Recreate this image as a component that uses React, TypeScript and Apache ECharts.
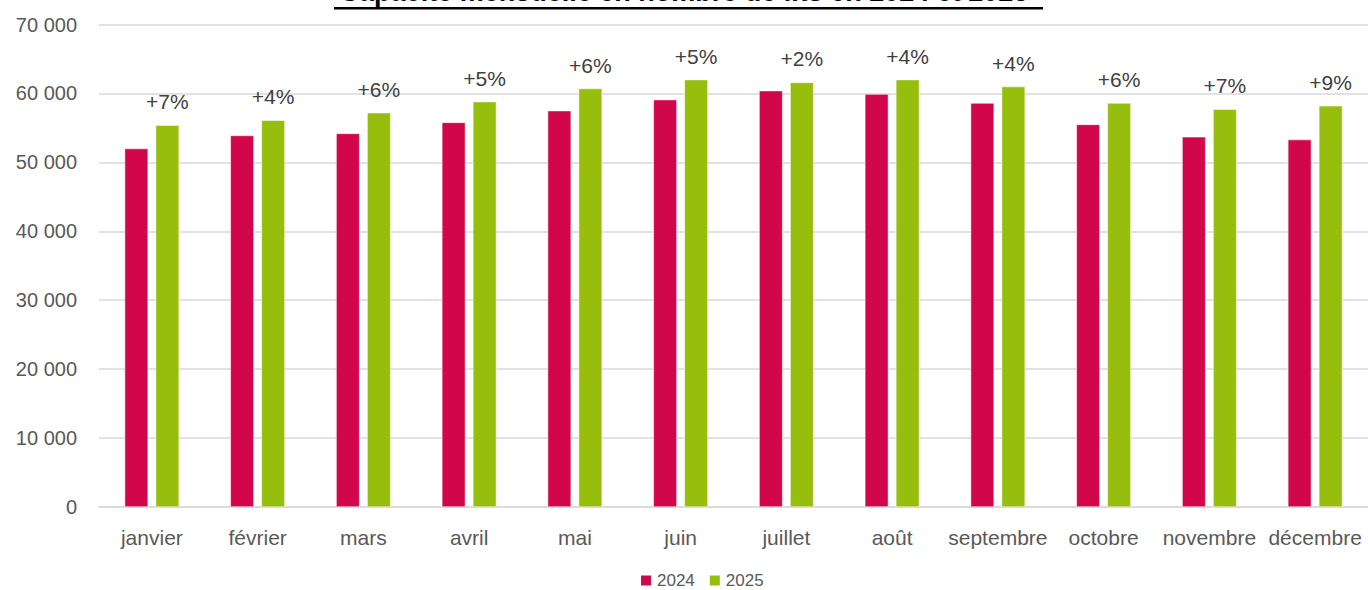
import React, { useEffect, useRef } from "react";
import * as echarts from "echarts";

const months = ["janvier", "février", "mars", "avril", "mai", "juin", "juillet", "août", "septembre", "octobre", "novembre", "décembre"];
const values2024 = [52000, 53900, 54200, 55800, 57500, 59100, 60400, 59900, 58600, 55500, 53700, 53300];
const values2025 = [55400, 56100, 57200, 58800, 60700, 62000, 61600, 62000, 61000, 58600, 57700, 58200];
const growthLabels = ["+7%", "+4%", "+6%", "+5%", "+6%", "+5%", "+2%", "+4%", "+4%", "+6%", "+7%", "+9%"];
const titleText = "Capacité mensuelle en nombre de lits en 2024 et 2025";

const FONT = "'Liberation Sans', Arial, sans-serif";

export default function App() {
  const ref = useRef<HTMLDivElement>(null);
  useEffect(() => {
    document.body.style.margin = "0";
    const chart = echarts.init(ref.current!, undefined, { renderer: "svg" });
    chart.setOption({
      animation: false,
      backgroundColor: "#ffffff",
      textStyle: { fontFamily: FONT },
      grid: { left: 99, width: 1274, top: 24.5, bottom: 83, containLabel: false },
      graphic: [
        {
          type: "text",
          left: "center",
          top: -22,
          style: { text: titleText, font: `bold 27px ${FONT}`, fill: "#000000" },
        },
        {
          type: "rect",
          shape: { x: 334, y: 7, width: 709, height: 2.5 },
          style: { fill: "#000000" },
        },
      ],
      legend: {
        top: 567,
        left: 634,
        itemWidth: 12,
        itemHeight: 12,
        itemGap: 13,
        icon: "rect",
        textStyle: { fontSize: 17, color: "#595959", fontFamily: FONT },
        data: ["2024", "2025"],
      },
      xAxis: {
        type: "category",
        data: months,
        axisLine: { lineStyle: { color: "#D9D9D9", width: 1.5 } },
        axisTick: { show: false },
        axisLabel: { fontSize: 21, color: "#595959", margin: 20, interval: 0, fontFamily: FONT },
      },
      yAxis: {
        type: "value",
        min: 0,
        max: 70000,
        interval: 10000,
        axisLine: { show: false },
        axisTick: { show: false },
        splitLine: { lineStyle: { color: "#D9D9D9", width: 1.5 } },
        axisLabel: {
          fontSize: 20,
          color: "#595959",
          margin: 22,
          fontFamily: FONT,
          formatter: (v: number) => String(v).replace(/\B(?=(\d{3})+(?!\d))/g, " "),
        },
      },
      series: [
        {
          name: "2024",
          type: "bar",
          data: values2024,
          barWidth: 23.5,
          barGap: "32%",
          itemStyle: { color: "#D2064A", borderColor: "#ffffff", borderWidth: 0.5 },
        },
        {
          name: "2025",
          type: "bar",
          data: values2025,
          barWidth: 23.5,
          itemStyle: { color: "#97BE0D", borderColor: "#ffffff", borderWidth: 0.5 },
          label: {
            show: true,
            position: "top",
            distance: 13,
            fontSize: 21,
            color: "#404040",
            fontFamily: FONT,
            formatter: (p: any) => growthLabels[p.dataIndex],
          },
        },
      ],
    });
    return () => chart.dispose();
  }, []);
  return <div ref={ref} style={{ width: 1368, height: 590 }} />;
}
